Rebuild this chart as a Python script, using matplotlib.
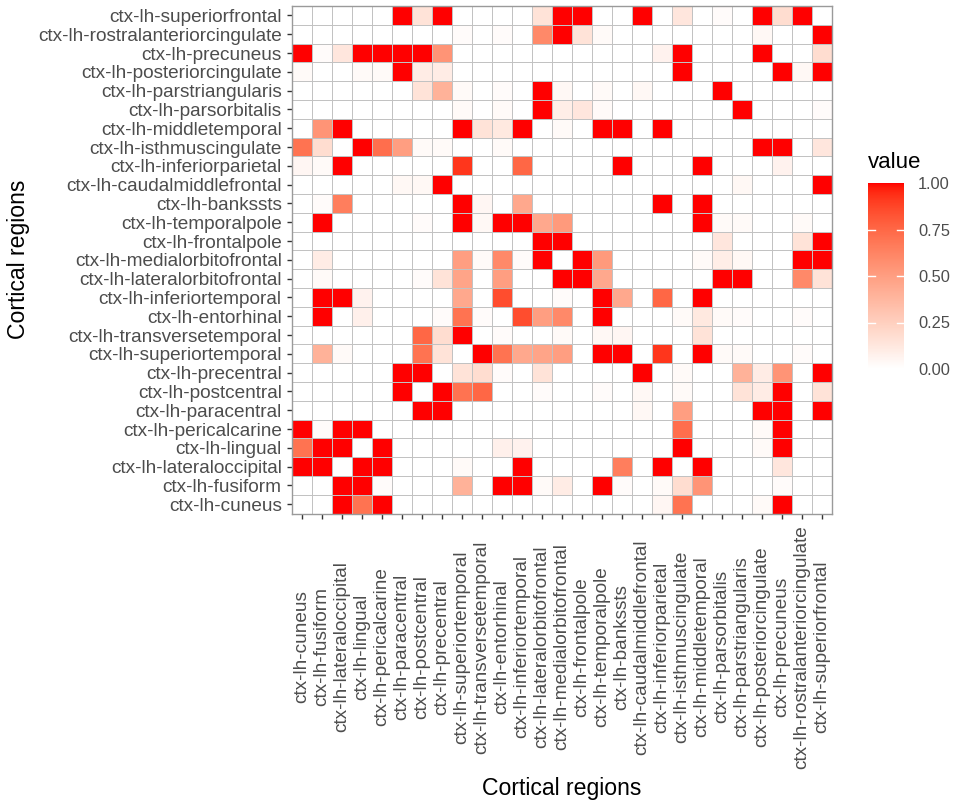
import numpy as np
import matplotlib
matplotlib.use("Agg")
import matplotlib.pyplot as plt
from matplotlib.colors import ListedColormap

plt.rcParams["font.family"] = ["Liberation Sans", "DejaVu Sans"]

# region order (bottom -> top on y, left -> right on x)
regions = [
    "cuneus", "fusiform", "lateraloccipital", "lingual", "pericalcarine",
    "paracentral", "postcentral", "precentral", "superiortemporal",
    "transversetemporal", "entorhinal", "inferiortemporal",
    "lateralorbitofrontal", "medialorbitofrontal", "frontalpole",
    "temporalpole", "bankssts", "caudalmiddlefrontal", "inferiorparietal",
    "isthmuscingulate", "middletemporal", "parsorbitalis", "parstriangularis",
    "posteriorcingulate", "precuneus", "rostralanteriorcingulate",
    "superiorfrontal",
]
labels = ["ctx-lh-" + r for r in regions]

# symmetric connections: region index a, region index b, value
pair_a = [0, 0, 0, 0, 0, 0, 0,
          1, 1, 1, 1, 1, 1, 1, 1, 1, 1, 1, 1, 1, 1,
          2, 2, 2, 2, 2, 2, 2, 2,
          3, 3, 3, 3, 3, 3,
          4, 4, 4,
          5, 5, 5, 5, 5, 5, 5,
          6, 6, 6, 6, 6, 6, 6, 6, 6, 6, 6,
          7, 7, 7, 7, 7, 7, 7, 7, 7, 7,
          8, 8, 8, 8, 8, 8, 8, 8, 8, 8, 8, 8,
          9, 9, 9, 9, 9,
          10, 10, 10, 10, 10, 10, 10, 10, 10,
          11, 11, 11, 11, 11,
          12, 12, 12, 12, 12, 12, 12,
          13, 13, 13, 13, 13, 13, 13,
          14, 14, 14,
          15, 15, 15, 15,
          16, 16,
          17, 17,
          18, 18,
          19, 19, 19,
          21, 21,
          23, 23, 23,
          24,
          25]
pair_b = [2, 3, 4, 18, 19, 23, 24,
          2, 3, 4, 8, 10, 11, 12, 13, 15, 16, 18, 19, 20, 24,
          3, 4, 8, 11, 16, 18, 20, 24,
          4, 10, 11, 19, 23, 24,
          19, 23, 24,
          6, 7, 17, 19, 23, 24, 26,
          7, 8, 9, 12, 15, 17, 19, 22, 23, 24, 26,
          8, 9, 10, 12, 17, 19, 22, 23, 24, 26,
          9, 10, 11, 12, 13, 15, 16, 18, 20, 21, 22, 25,
          10, 13, 15, 16, 20,
          11, 12, 13, 15, 19, 20, 21, 22, 25,
          13, 15, 16, 18, 20,
          13, 14, 15, 21, 22, 25, 26,
          14, 15, 20, 21, 22, 25, 26,
          21, 25, 26,
          20, 21, 22, 25,
          18, 20,
          22, 26,
          20, 24,
          23, 24, 26,
          22, 26,
          24, 25, 26,
          26,
          26]
pair_val = [1, 0.7, 1, 0.05, 0.7, 0.03, 1,
            1, 1, 0.02, 0.4, 1, 1, 0.03, 0.1, 1, 0.02, 0.03, 0.18, 0.55, 0.02,
            1, 1, 0.03, 1, 0.65, 1, 1, 0.13,
            1, 0.08, 0.07, 1, 0.03, 1,
            0.72, 0.03, 1,
            1, 1, 0.04, 0.5, 1, 1, 1,
            1, 0.7, 0.75, 0.02, 0.02, 0.04, 0.03, 0.15, 0.1, 1, 0.15,
            0.15, 0.18, 0.02, 0.15, 1, 0.03, 0.4, 0.1, 0.55, 1,
            1, 0.7, 0.45, 0.47, 0.5, 1, 1, 0.92, 1, 0.03, 0.03, 0.02,
            0.02, 0.03, 0.04, 0.05, 0.15,
            0.85, 0.5, 0.6, 1, 0.03, 0.12, 0.03, 0.02, 0.02,
            0.02, 1, 0.45, 0.75, 1,
            1, 1, 0.45, 1, 1, 0.6, 0.15,
            1, 0.52, 0.03, 0.09, 0.04, 1, 1,
            0.13, 0.15, 1,
            1, 0.03, 0.03, 0.03,
            1, 1,
            0.04, 1,
            1, 0.07,
            1, 1, 0.13,
            1, 0.02,
            1, 0.04, 1,
            0.18,
            1]

n = len(regions)
mat = np.zeros((n, n))
for a, b, v in zip(pair_a, pair_b, pair_val):
    mat[a, b] = v
    mat[b, a] = v


# white -> red gradient interpolated in Lab, like ggplot's scale_fill_gradient
def _to_lab(rgb):
    c = np.asarray(rgb, float)
    lin = np.where(c <= 0.04045, c / 12.92, ((c + 0.055) / 1.055) ** 2.4)
    M = np.array([[0.4124, 0.3576, 0.1805],
                  [0.2126, 0.7152, 0.0722],
                  [0.0193, 0.1192, 0.9505]])
    xyz = M @ lin / np.array([0.95047, 1.0, 1.08883])
    d = 6 / 29
    f = np.where(xyz > d ** 3, np.cbrt(xyz), xyz / (3 * d * d) + 4 / 29)
    return np.array([116 * f[1] - 16, 500 * (f[0] - f[1]), 200 * (f[1] - f[2])])


def _from_lab(lab):
    L, A, B = lab
    fy = (L + 16) / 116
    f = np.array([fy + A / 500, fy, fy - B / 200])
    d = 6 / 29
    xyz = np.where(f > d, f ** 3, 3 * d * d * (f - 4 / 29))
    xyz = xyz * np.array([0.95047, 1.0, 1.08883])
    Minv = np.array([[3.2406, -1.5372, -0.4986],
                     [-0.9689, 1.8758, 0.0415],
                     [0.0557, -0.2040, 1.0570]])
    lin = np.clip(Minv @ xyz, 0, 1)
    s = np.where(lin <= 0.0031308, 12.92 * lin, 1.055 * lin ** (1 / 2.4) - 0.055)
    return np.clip(s, 0, 1)


lo, hi = _to_lab([1, 1, 1]), _to_lab([1, 0, 0])
cmap = ListedColormap([_from_lab(lo + t * (hi - lo)) for t in np.linspace(0, 1, 256)])

fig = plt.figure(figsize=(9.57, 8.07), dpi=100)
ax = fig.add_axes([291.7 / 957, 1 - 513.6 / 807, 540 / 957, 507.6 / 807])

edges = np.arange(n + 1) - 0.5
mesh = ax.pcolormesh(edges, edges, mat, cmap=cmap, vmin=0, vmax=1,
                     edgecolors="#c2c2c2", linewidth=0.6)
ax.set_xlim(-0.5, n - 0.5)
ax.set_ylim(-0.5, n - 0.5)

for s in ax.spines.values():
    s.set_color("#9a9a9a")
    s.set_linewidth(1.0)

ax.set_xticks(range(n))
ax.set_yticks(range(n))
ax.set_xticklabels(labels, rotation=90, va="center", ha="center")
ax.set_yticklabels(labels)
ax.tick_params(length=3.6, width=1, color="#333333", labelsize=13.7,
               labelcolor="#4d4d4d")
ax.tick_params(axis="y", pad=3.6)
ax.tick_params(axis="x", pad=92.4)

ax.set_xlabel("Cortical regions", fontsize=16.6, va="center")
ax.xaxis.set_label_coords(0.5, (19 - 293.4) / 507.6)
ax.set_ylabel("Cortical regions", fontsize=16.6, va="center")
ax.yaxis.set_label_coords((18 - 291.7) / 540, 0.5)

# colour bar legend
cax = fig.add_axes([868 / 957, 1 - 369 / 807, 36 / 957, 186 / 807])
cb = fig.colorbar(mesh, cax=cax, ticks=[0, 0.25, 0.5, 0.75, 1], format="%.2f")
cb.outline.set_visible(False)
cax.tick_params(length=0, pad=10, labelsize=11.8, labelcolor="#4d4d4d")
tr = cax.get_yaxis_transform()
for t in [0.25, 0.5, 0.75]:
    cax.plot([0, 0.2], [t, t], color="white", lw=1, transform=tr)
    cax.plot([0.8, 1], [t, t], color="white", lw=1, transform=tr)
cax.text(0, 1 + 20 / 186, "value", transform=cax.transAxes, ha="left",
         va="center", fontsize=16)

fig.savefig("out.png", dpi=100, facecolor="white")
